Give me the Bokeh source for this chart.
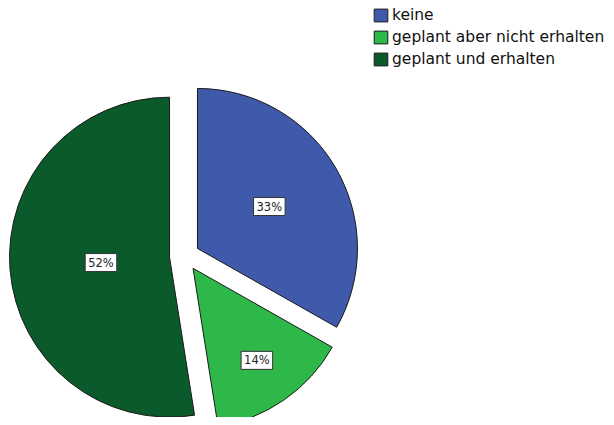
import numpy as np
from bokeh.plotting import figure
from bokeh.models import ColumnDataSource, Label, Legend, LegendItem
from bokeh.embed import file_html
from bokeh.resources import INLINE

categories = ["keine", "geplant aber nicht erhalten", "geplant und erhalten"]
shares = [33.2, 14.3, 52.5]
pct_labels = ["33%", "14%", "52%"]
colors = ["#3F59AB", "#2FB84A", "#0B5A2B"]

W, H = 606, 417
# coordinates in page pixels (y downward -> negate)
cx, cy = 184.0, -255.5
R = 160.0
explode = 15.0
label_frac = [0.52, 0.70, 0.43]

frac = np.array(shares) / np.sum(shares)
cum_end = np.cumsum(frac)
cum_start = cum_end - frac
a_start = np.pi / 2 - cum_end * 2 * np.pi
a_end = np.pi / 2 - cum_start * 2 * np.pi
mid = (a_start + a_end) / 2
xs = cx + explode * np.cos(mid)
ys = cy + explode * np.sin(mid)
lx = xs + np.array(label_frac) * R * np.cos(mid)
ly = ys + np.array(label_frac) * R * np.sin(mid)

src = ColumnDataSource(dict(x=xs, y=ys, s=a_start, e=a_end, color=colors,
                            cat=categories))

p = figure(width=W, height=H, output_backend="svg", toolbar_location=None,
           x_range=(0, W), y_range=(-H, 0), min_border=0,
           background_fill_color="white", border_fill_color="white")
p.axis.visible = False
p.grid.visible = False
p.outline_line_color = None

r = p.wedge(x="x", y="y", radius=R, start_angle="s", end_angle="e",
            fill_color="color", line_color="#1a1a1a", line_width=1, source=src)

for i in range(len(pct_labels)):
    p.add_layout(Label(x=float(lx[i]), y=float(ly[i]), text=pct_labels[i],
                       text_align="center", text_baseline="middle",
                       text_font_size="11.5px", text_font="DejaVu Sans",
                       text_color="#222222", background_fill_color="white",
                       border_line_color="#333333", border_line_width=1,
                       padding=(3, 2)))

items = [LegendItem(label=c, renderers=[r], index=i) for i, c in enumerate(categories)]
legend = Legend(items=items, location=(372, H - 10 - 58), orientation="vertical",
                glyph_width=17, glyph_height=16, spacing=4, padding=0, margin=0,
                label_standoff=3, label_text_font_size="15.5px",
                label_text_font="DejaVu Sans", label_text_color="#111111",
                label_height=16, border_line_color=None,
                background_fill_alpha=0)
p.add_layout(legend)

open("out.html", "w").write(file_html(p, INLINE))
